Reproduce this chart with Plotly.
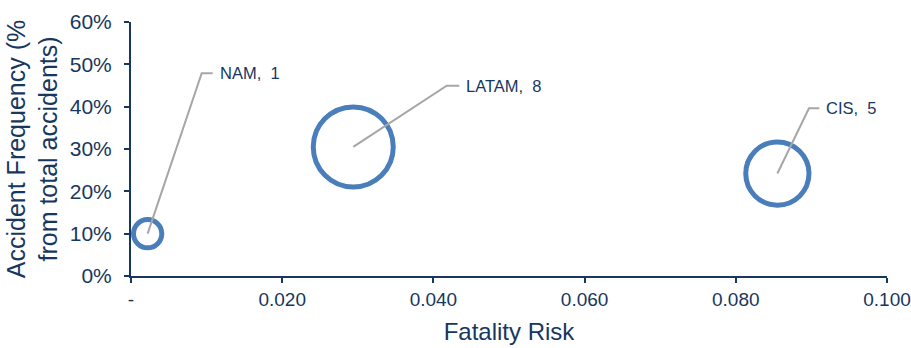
import plotly.graph_objects as go

# Data
regions = ["NAM", "LATAM", "CIS"]
fatality_risk = [0.0022, 0.0294, 0.0855]
accident_freq = [0.10, 0.305, 0.242]
bubble_size = [1, 8, 5]

x_tickvals = [0, 0.02, 0.04, 0.06, 0.08, 0.10]
x_ticktext = ["-", "0.020", "0.040", "0.060", "0.080", "0.100"]
y_tickvals = [0, 0.1, 0.2, 0.3, 0.4, 0.5, 0.6]

# Label placement (layout): elbow point and end of horizontal leader segment
label_elbow_x = [0.00935, 0.04176, 0.08968]
label_elbow_y = [0.479, 0.4496, 0.3962]
label_end_x = [0.0108, 0.04343, 0.09105]

TEXT = "#17375E"
AXIS = "#17375E"
FONT = "Liberation Sans, Arial, sans-serif"

fig = go.Figure()
fig.add_trace(go.Scatter(
    x=fatality_risk, y=accident_freq, mode="markers",
    marker=dict(size=bubble_size, sizemode="area", sizeref=2 * max(bubble_size) / 80 ** 2,
                opacity=1, color="rgba(0,0,0,0)", line=dict(color="#4A7EBB", width=5)),
    hoverinfo="skip", showlegend=False,
))

for i, name in enumerate(regions):
    fig.add_shape(type="path",
                  path=f"M {fatality_risk[i]},{accident_freq[i]} L {label_elbow_x[i]},{label_elbow_y[i]} L {label_end_x[i]},{label_elbow_y[i]}",
                  line=dict(color="#A6A6A6", width=2), layer="above")
    fig.add_annotation(x=label_end_x[i], y=label_elbow_y[i], text=f"{name},  {bubble_size[i]}",
                       showarrow=False, xanchor="left", yanchor="middle", xshift=5,
                       font=dict(size=16.5, color=TEXT, family=FONT))

fig.update_layout(
    width=911, height=348,
    margin=dict(l=131, r=24, t=22, b=72),
    paper_bgcolor="white", plot_bgcolor="white",
    font=dict(family=FONT, color=TEXT, size=21),
    xaxis=dict(range=[0, 0.100001], tickvals=x_tickvals, ticktext=x_ticktext, automargin=False,
               showgrid=False, zeroline=False, showline=True, linecolor=AXIS, linewidth=2,
               ticks="outside", ticklen=5, tickwidth=2, tickcolor=AXIS,
               tickfont=dict(size=19, color=TEXT), ticklabeloverflow="allow",
               title=dict(text="Fatality Risk", font=dict(size=24, color=TEXT), standoff=14)),
    yaxis=dict(range=[0, 0.600001], tickvals=y_tickvals, tickformat=".0%", automargin=False,
               showgrid=False, zeroline=False, showline=True, linecolor=AXIS, linewidth=2,
               ticks="outside", ticklen=5, tickwidth=2, tickcolor=AXIS,
               tickfont=dict(size=21, color=TEXT), ticklabelstandoff=8,
               title=dict(text="Accident Frequency (%<br>from total accidents)",
                          font=dict(size=25, color=TEXT), standoff=5)),
)

fig.write_html("out.html", config={"displayModeBar": False},
               post_script="document.body.style.margin='0';document.body.style.overflow='hidden';")
